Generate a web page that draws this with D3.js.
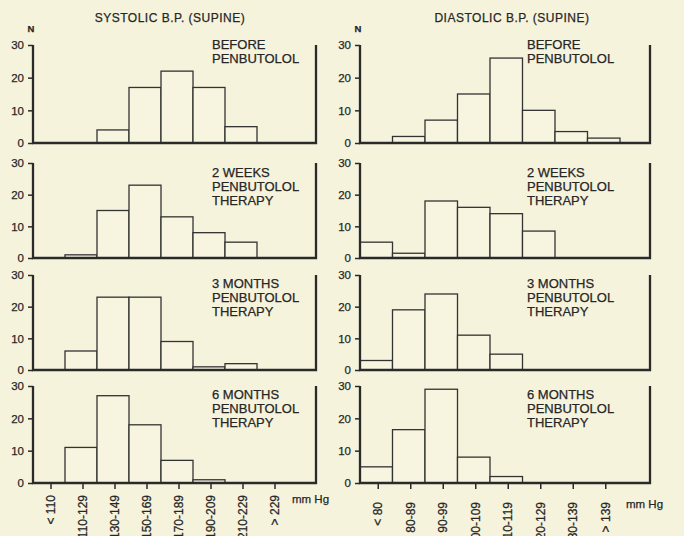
<!DOCTYPE html>
<html lang="en">
<head>
    <script src="https://d3js.org/d3.v7.min.js"></script>
</head>
<body>
<style>
    body { margin: 0; background: #f6f3dc; }
    svg { display: block; }
    text { font-family: "Liberation Sans", Arial, sans-serif; fill: #262626; stroke: #262626; stroke-width: 0.25px; }
    .bar { fill: #f7f4e0; stroke: #333; stroke-width: 1.3px; }
    .frame { stroke: #2a2a2a; stroke-width: 2.3px; fill: none; }
    .tick line { stroke: #2a2a2a; stroke-width: 1.5px; }
</style>
<svg></svg>
</body>
<script>
    const width = 684;
    const height = 536;
    const svg = d3.select('svg').attr('width', width).attr('height', height);

    // bins
    const systolicBins = ['< 110', '110-129', '130-149', '150-169', '170-189', '190-209', '210-229', '> 229'];
    const diastolicBins = ['< 80', '80-89', '90-99', '100-109', '110-119', '120-129', '130-139', '> 139'];

    // panel labels (one per row)
    const periods = [
        ['BEFORE', 'PENBUTOLOL'],
        ['2 WEEKS', 'PENBUTOLOL', 'THERAPY'],
        ['3 MONTHS', 'PENBUTOLOL', 'THERAPY'],
        ['6 MONTHS', 'PENBUTOLOL', 'THERAPY'],
    ];

    // N per bin
    const systolicBefore = [0, 0, 4, 17, 22, 17, 5, 0];
    const systolic2w = [0, 1, 15, 23, 13, 8, 5, 0];
    const systolic3m = [0, 6, 23, 23, 9, 1, 2, 0];
    const systolic6m = [0, 11, 27, 18, 7, 1, 0, 0];

    const diastolicBefore = [0, 2, 7, 15, 26, 10, 3.5, 1.5];
    const diastolic2w = [5, 1.5, 18, 16, 14, 8.5, 0, 0];
    const diastolic3m = [3, 19, 24, 11, 5, 0, 0, 0];
    const diastolic6m = [5, 16.5, 29, 8, 2, 0, 0, 0];

    const yTicks = [0, 10, 20, 30];

    // row geometry: [top of 30, baseline]
    const rows = [[45, 143], [163, 258], [275, 370], [386, 483]];
    const labelOffset = [4, 14, 13, 13];

    const columns = [
        {title: 'SYSTOLIC B.P. (SUPINE)', titleX: 170, bins: systolicBins, x0: 33, x1: 289, right: 316,
            series: [systolicBefore, systolic2w, systolic3m, systolic6m], labelX: 212, unitX: 292, unitY: 503, tickLabelY: 495},
        {title: 'DIASTOLIC B.P. (SUPINE)', titleX: 512, bins: diastolicBins, x0: 360, x1: 620, right: 650,
            series: [diastolicBefore, diastolic2w, diastolic3m, diastolic6m], labelX: 527, unitX: 626, unitY: 508, tickLabelY: 502},
    ];

    columns.forEach((col) => {
        const x = d3.scaleBand().domain(col.bins).range([col.x0, col.x1]).padding(0);
        const g = svg.append('g');

        g.append('text')
            .attr('x', col.titleX).attr('y', 22)
            .attr('text-anchor', 'middle')
            .style('font-size', '12px').style('letter-spacing', '0.5px')
            .text(col.title);

        g.append('text')
            .attr('x', col.x0 - 2).attr('y', 32)
            .attr('text-anchor', 'middle')
            .style('font-size', '9.5px').style('font-weight', 'bold')
            .text('N');

        col.series.forEach((values, r) => {
            const [top, base] = rows[r];
            const y = d3.scaleLinear().domain([0, 30]).range([base, top]);
            const panel = g.append('g');

            const data = values.map((v, i) => ({bin: col.bins[i], value: v})).filter((d) => d.value > 0);
            panel.selectAll('rect').data(data).enter().append('rect')
                .attr('class', 'bar')
                .attr('x', (d) => x(d.bin))
                .attr('y', (d) => y(d.value))
                .attr('width', x.bandwidth())
                .attr('height', (d) => base - y(d.value));

            // y axis
            const yAxis = panel.append('g')
                .attr('transform', `translate(${col.x0},0)`)
                .call(d3.axisLeft(y).tickValues(yTicks).tickSize(5).tickPadding(4));
            yAxis.select('.domain').remove();
            yAxis.selectAll('text').style('font-size', '11.5px');

            // frame: left axis, baseline, right line
            panel.append('path')
                .attr('class', 'frame')
                .attr('d', `M${col.x0},${top}V${base}H${col.right}V${top}`);

            // period label
            panel.append('text')
                .attr('x', col.labelX)
                .attr('y', top + labelOffset[r])
                .style('font-size', '13px')
                .selectAll('tspan').data(periods[r]).enter().append('tspan')
                .attr('x', col.labelX)
                .attr('dy', (d, i) => (i === 0 ? 0 : 14))
                .text((d) => d);

            if (r === rows.length - 1) {
                const xAxis = panel.append('g')
                    .attr('transform', `translate(2,${base})`)
                    .call(d3.axisBottom(x).tickSize(6).tickPadding(0));
                xAxis.select('.domain').remove();
                xAxis.selectAll('text')
                    .style('font-size', '12px')
                    .attr('text-anchor', 'end')
                    .attr('transform', (d) => `translate(0,${col.tickLabelY - base}) rotate(-90)`)
                    .attr('x', 0).attr('y', 0).attr('dy', '0.35em');

                panel.append('text')
                    .attr('x', col.unitX).attr('y', col.unitY)
                    .style('font-size', '11.5px')
                    .text('mm Hg');
            }
        });
    });
</script>
</html>
